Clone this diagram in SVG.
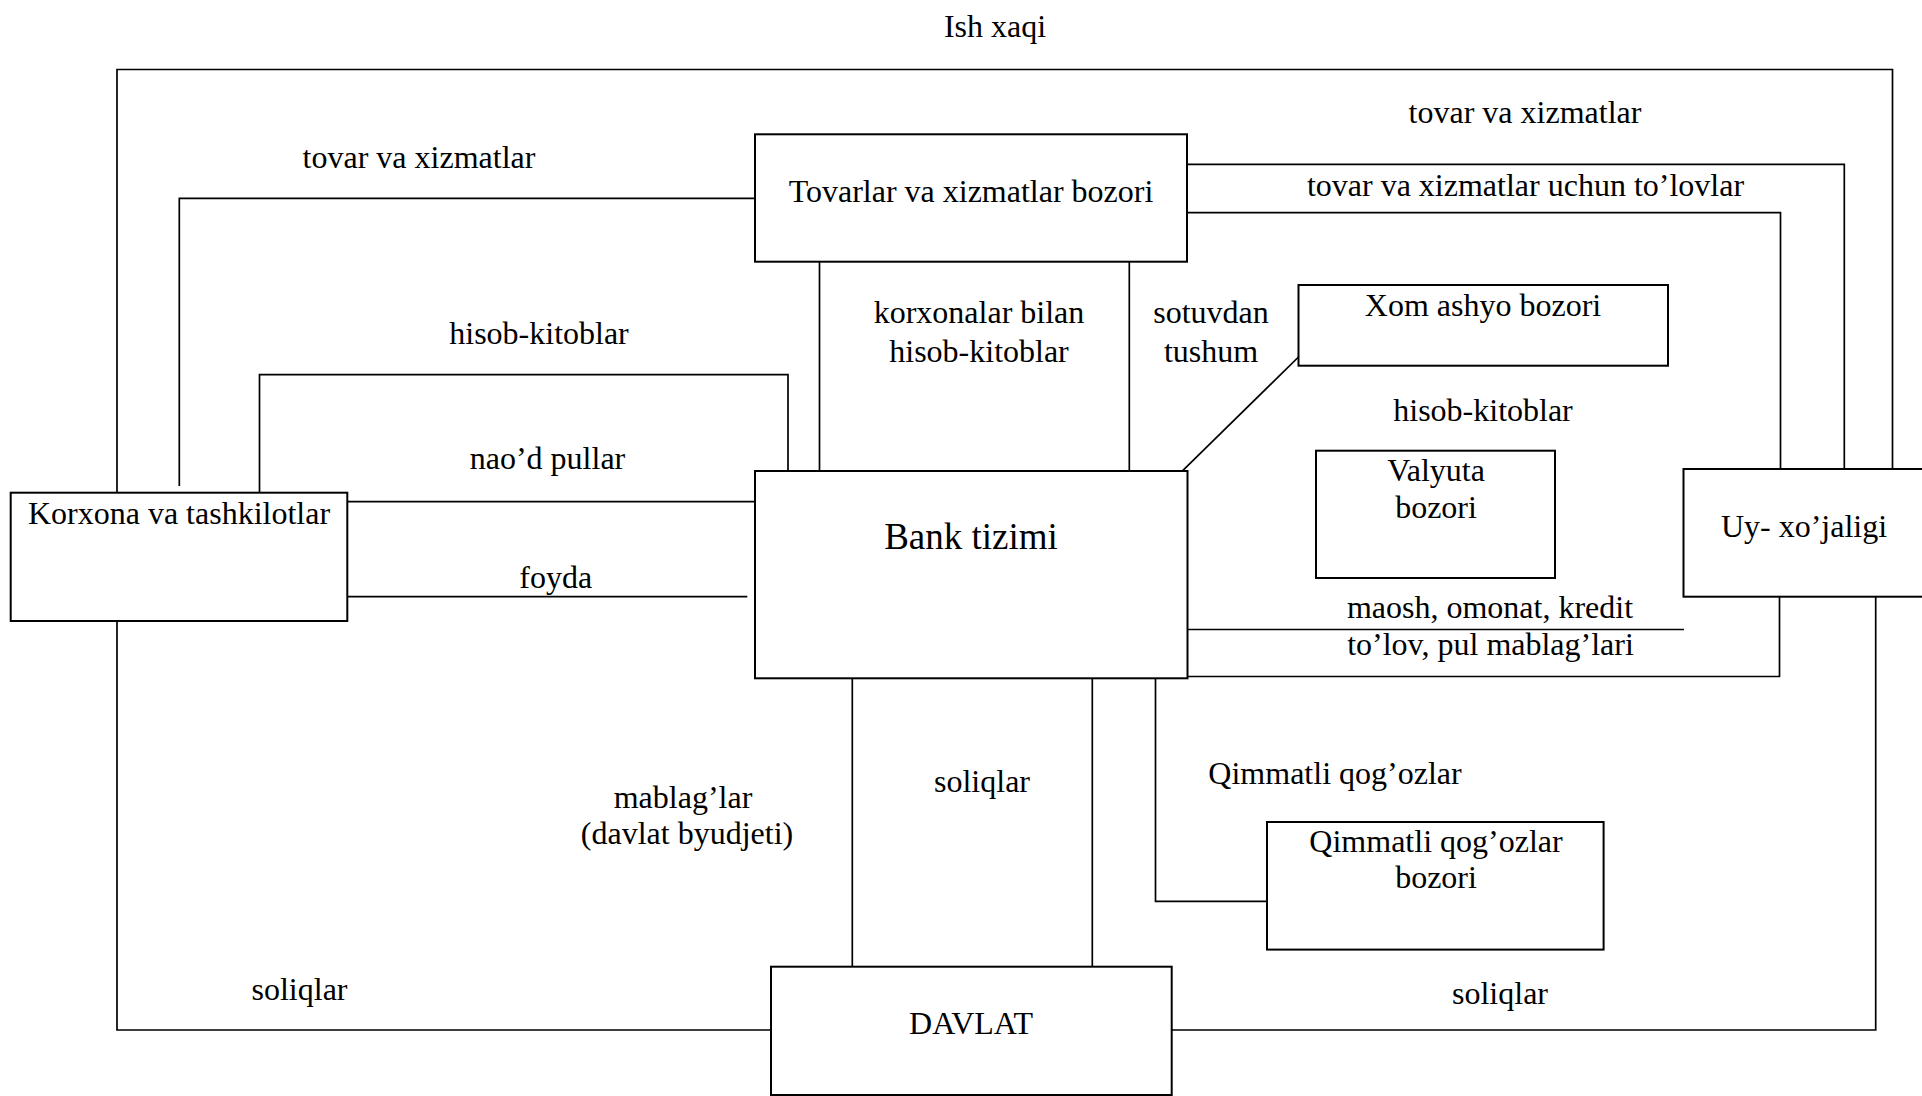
<svg xmlns="http://www.w3.org/2000/svg" width="1922" height="1096" viewBox="0 0 1922 1096">
<style>
  .box { fill: #ffffff; stroke: #000000; stroke-width: 2; }
  .ln { fill: none; stroke: #000000; stroke-width: 1.7; }
  text { font-family: "Liberation Serif", "Times New Roman", serif; font-size: 32px; fill: #000000; text-anchor: middle; }
  .big { font-size: 37px; }
</style>
<rect x="0" y="0" width="1922" height="1096" fill="#ffffff"/>
<g id="connectors">
  <polyline class="ln" points="117,493 117,69.5 1892.5,69.5 1892.5,469"/>
  <polyline class="ln" points="179.3,486 179.3,198.3 755,198.3"/>
  <polyline class="ln" points="259.5,493 259.5,374.6 788,374.6 788,471"/>
  <line class="ln" x1="347" y1="501.7" x2="755" y2="501.7"/>
  <line class="ln" x1="347" y1="596.7" x2="747.3" y2="596.7"/>
  <line class="ln" x1="819.5" y1="262" x2="819.5" y2="471"/>
  <line class="ln" x1="1129.3" y1="262" x2="1129.3" y2="471"/>
  <line class="ln" x1="1298.5" y1="357" x2="1182.7" y2="470.7"/>
  <polyline class="ln" points="1187,164.3 1844.3,164.3 1844.3,469"/>
  <polyline class="ln" points="1187,212.7 1780.5,212.7 1780.5,469"/>
  <line class="ln" x1="1187" y1="629.5" x2="1684" y2="629.5"/>
  <polyline class="ln" points="1187,676.5 1779.5,676.5 1779.5,597"/>
  <polyline class="ln" points="1171.7,1030 1875.7,1030 1875.7,597"/>
  <polyline class="ln" points="117,621 117,1030 771,1030"/>
  <line class="ln" x1="852.3" y1="677" x2="852.3" y2="967"/>
  <line class="ln" x1="1092.3" y1="674.5" x2="1092.3" y2="967"/>
  <polyline class="ln" points="1155.5,676 1155.5,901.3 1267,901.3"/>
</g>
<g id="node-tovarlar">
  <rect class="box" x="755" y="134.3" width="432" height="127.4"/>
  <text x="971" y="201.7">Tovarlar va xizmatlar bozori</text>
</g>
<g id="node-bank">
  <rect class="box" x="755" y="471" width="432.5" height="207.3"/>
  <text class="big" x="971" y="549">Bank tizimi</text>
</g>
<g id="node-korxona">
  <rect class="box" x="10.7" y="492.7" width="336.6" height="128.3"/>
  <text x="179" y="524">Korxona va tashkilotlar</text>
</g>
<g id="node-xom">
  <rect class="box" x="1298.5" y="285" width="369.5" height="80.7"/>
  <text x="1483" y="315.5">Xom ashyo bozori</text>
</g>
<g id="node-valyuta">
  <rect class="box" x="1316" y="450.7" width="239" height="127.3"/>
  <text x="1436" y="481">Valyuta</text>
  <text x="1436" y="518">bozori</text>
</g>
<g id="node-uy">
  <rect class="box" x="1683.5" y="469" width="250" height="127.7"/>
  <text x="1804" y="537">Uy- xo’jaligi</text>
</g>
<g id="node-qimmatli">
  <rect class="box" x="1267" y="822" width="336.6" height="127.6"/>
  <text x="1436" y="852">Qimmatli qog’ozlar</text>
  <text x="1436" y="888">bozori</text>
</g>
<g id="node-davlat">
  <rect class="box" x="771" y="966.7" width="400.7" height="128.3"/>
  <text x="971" y="1034">DAVLAT</text>
</g>
<g id="labels">
  <text x="995" y="37">Ish xaqi</text>
  <text x="419" y="168">tovar va xizmatlar</text>
  <text x="539" y="343.5">hisob-kitoblar</text>
  <text x="547.5" y="469">nao’d pullar</text>
  <text x="555.7" y="588">foyda</text>
  <text x="979" y="323">korxonalar bilan</text>
  <text x="979" y="361.5">hisob-kitoblar</text>
  <text x="1211" y="323">sotuvdan</text>
  <text x="1211" y="361.5">tushum</text>
  <text x="1525" y="122.5">tovar va xizmatlar</text>
  <text x="1525.5" y="196.4">tovar va xizmatlar uchun to’lovlar</text>
  <text x="1483" y="420.6">hisob-kitoblar</text>
  <text x="1490" y="618">maosh, omonat, kredit</text>
  <text x="1490.5" y="655">to’lov, pul mablag’lari</text>
  <text x="683" y="808">mablag’lar</text>
  <text x="687" y="844">(davlat byudjeti)</text>
  <text x="982" y="791.5">soliqlar</text>
  <text x="1335" y="784">Qimmatli qog’ozlar</text>
  <text x="299.5" y="1000">soliqlar</text>
  <text x="1500" y="1004">soliqlar</text>
</g>
</svg>
